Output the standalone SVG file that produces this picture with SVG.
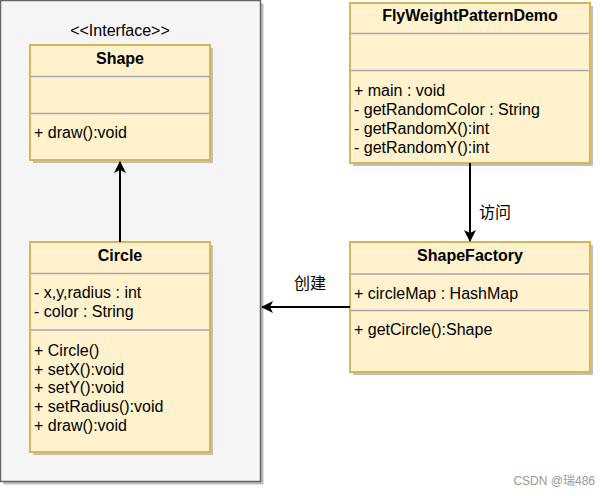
<svg xmlns="http://www.w3.org/2000/svg" width="610" height="496" viewBox="0 0 610 496">
<defs>
<style>
.box{fill:#fff2cc;stroke:#d6b656;stroke-width:2}
.sh{fill:#bfbfbf;stroke:none}
.div{stroke:#a3a6b3;stroke-width:1.5;fill:none}
text{font-family:"Liberation Sans",Arial,"Noto Sans CJK SC",sans-serif;font-size:16px;fill:#000}
.t{font-weight:bold;text-anchor:middle}
.edge{stroke:#000;stroke-width:2;fill:none}
</style>
<marker id="ah" viewBox="0 0 12 12" refX="11" refY="6" markerWidth="12" markerHeight="12" markerUnits="userSpaceOnUse" orient="auto">
<path d="M0,0 L12,6 L0,12 L3,6 Z" fill="#000"/>
</marker>
</defs>
<rect x="0" y="0" width="610" height="496" fill="#fff"/>
<g id="container">
<rect x="3.5" y="3.5" width="260" height="481" fill="#bdbdbd"/>
<rect x="0.5" y="0.5" width="260" height="481" fill="#f5f5f5" stroke="#666" stroke-width="1.5"/>
</g>
<g id="shape">
<text x="120" y="36" text-anchor="middle">&lt;&lt;Interface&gt;&gt;</text>
<rect class="sh" x="33" y="48" width="180" height="115"/>
<rect class="box" x="30" y="45" width="180" height="115"/>
<line class="div" x1="31" y1="76.5" x2="209" y2="76.5"/>
<line class="div" x1="31" y1="113.5" x2="209" y2="113.5"/>
<text class="t" x="120" y="64">Shape</text>
<text x="34" y="138">+ draw():void</text>
</g>
<g id="circle">
<rect class="sh" x="33" y="245" width="180" height="210"/>
<rect class="box" x="30" y="242" width="180" height="210"/>
<line class="div" x1="31" y1="273.5" x2="209" y2="273.5"/>
<line class="div" x1="31" y1="330" x2="209" y2="330"/>
<text class="t" x="120" y="261">Circle</text>
<text x="34" y="298">- x,y,radius : int</text>
<text x="34" y="317">- color : String</text>
<text x="34" y="356">+ Circle()</text>
<text x="34" y="374.5">+ setX():void</text>
<text x="34" y="393">+ setY():void</text>
<text x="34" y="412">+ setRadius():void</text>
<text x="34" y="431">+ draw():void</text>
</g>
<g id="demo">
<rect class="sh" x="353" y="6" width="240" height="160"/>
<rect class="box" x="350" y="3" width="240" height="160"/>
<line class="div" x1="351" y1="33.5" x2="589" y2="33.5"/>
<line class="div" x1="351" y1="70.5" x2="589" y2="70.5"/>
<text class="t" x="470" y="21">FlyWeightPatternDemo</text>
<text x="354" y="96">+ main : void</text>
<text x="354" y="115">- getRandomColor : String</text>
<text x="354" y="134">- getRandomX():int</text>
<text x="354" y="153">- getRandomY():int</text>
</g>
<g id="factory">
<rect class="sh" x="353" y="245" width="240" height="130"/>
<rect class="box" x="350" y="242" width="240" height="130"/>
<line class="div" x1="351" y1="274" x2="589" y2="274"/>
<line class="div" x1="351" y1="310.5" x2="589" y2="310.5"/>
<text class="t" x="470" y="261">ShapeFactory</text>
<text x="354" y="298.5">+ circleMap : HashMap</text>
<text x="354" y="335">+ getCircle():Shape</text>
</g>
<g id="connectors">
<line class="edge" x1="120" y1="242" x2="120" y2="162" marker-end="url(#ah)"/>
<line class="edge" x1="470" y1="163" x2="470" y2="241" marker-end="url(#ah)"/>
<line class="edge" x1="350" y1="307" x2="262" y2="307" marker-end="url(#ah)"/>
<text x="479" y="218">访问</text>
<text x="294" y="289">创建</text>
</g>
<text x="595" y="485" text-anchor="end" style="font-size:12px;fill:#999">CSDN @瑞486</text>
</svg>
